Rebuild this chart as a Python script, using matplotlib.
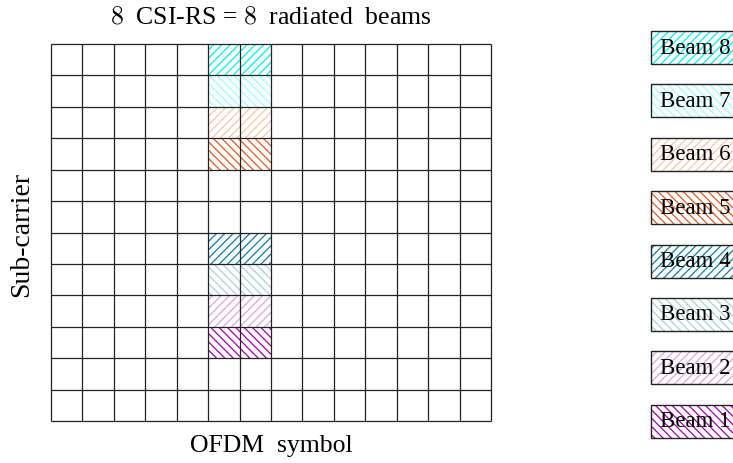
import matplotlib
matplotlib.use("Agg")
import matplotlib.pyplot as plt
from matplotlib.patches import Rectangle

# grid size
n_symbols = 14
n_subcarriers = 12

# CSI-RS resource elements: (beam label, column indices, row from bottom, colour, hatch)
beams = ["Beam 1", "Beam 2", "Beam 3", "Beam 4", "Beam 5", "Beam 6", "Beam 7", "Beam 8"]
beam_rows = [2, 3, 4, 5, 8, 9, 10, 11]
beam_cols = [5, 6]
beam_colors = ["#a000a8", "#dca6dc", "#a8d2da", "#0f7f9c",
               "#dd5a22", "#f8c6aa", "#a0ffff", "#00f0f0"]
beam_hatches = ["\\\\\\\\", "////", "\\\\\\\\", "////",
                "\\\\\\\\", "////", "\\\\\\\\", "////"]

plt.rcParams["font.family"] = ["Liberation Serif", "DejaVu Serif"]
plt.rcParams["mathtext.fontset"] = "cm"
plt.rcParams["hatch.linewidth"] = 0.9

W, H = 733, 463
fig = plt.figure(figsize=(W / 100, H / 100), dpi=100)

# main resource grid
ax = fig.add_axes([51 / W, (H - 421) / H, 440 / W, 377 / H])
ax.set_xlim(0, n_symbols)
ax.set_ylim(0, n_subcarriers)
ax.axis("off")

for b in range(len(beams)):
    for c in beam_cols:
        ax.add_patch(Rectangle((c, beam_rows[b]), 1, 1, facecolor="none",
                               edgecolor=beam_colors[b], hatch=beam_hatches[b],
                               linewidth=0))

ax.vlines(range(n_symbols + 1), 0, n_subcarriers, colors="#222222",
          linewidth=0.9, clip_on=False)
ax.hlines(range(n_subcarriers + 1), 0, n_symbols, colors="#222222",
          linewidth=0.9, clip_on=False)

fig.text(271 / W, 1 - 18 / H, r"$8$  CSI-RS = $8$  radiated  beams",
         ha="center", va="center", fontsize=18.5)
fig.text(271 / W, 1 - 446 / H, "OFDM  symbol", ha="center", va="center",
         fontsize=18.5)
fig.text(22 / W, 1 - 234 / H, "Sub-carrier", ha="center", va="center",
         rotation=90, fontsize=20)

# legend boxes, clipped at the right edge of the figure
lax = fig.add_axes([640 / W, 0, 93 / W, 1])
lax.set_xlim(640, 733)
lax.set_ylim(H, 0)
lax.axis("off")
for b in range(len(beams)):
    top = 31 + (7 - b) * 53.4
    lax.add_patch(Rectangle((651, top), 100, 33, facecolor="none",
                            edgecolor=beam_colors[b], hatch=beam_hatches[b],
                            linewidth=0))
    lax.add_patch(Rectangle((651, top), 100, 33, facecolor="none",
                            edgecolor="#222222", linewidth=1.0))
    lax.text(660, top + 17, beams[b], ha="left", va="center", fontsize=16.5)

fig.savefig("out.png", dpi=100)
